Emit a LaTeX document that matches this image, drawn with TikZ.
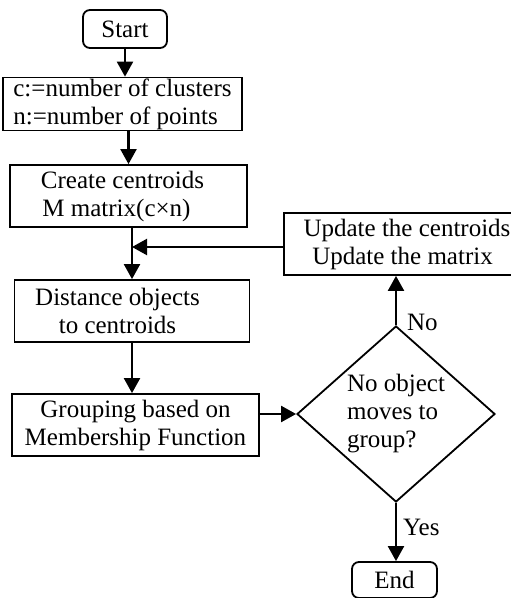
\documentclass[tikz,border=0pt]{standalone}
\usepackage{fontspec}
\setmainfont{Liberation Serif}
\usetikzlibrary{arrows.meta,shapes.geometric,calc}

\tikzset{
  proc/.style={draw=black,line width=1.8pt,minimum height=62pt,inner sep=1pt,align=center,font=\fontsize{25}{28}\selectfont},
  term/.style={proc,rounded corners=7pt,minimum height=38pt},
  decision/.style={draw=black,line width=1.8pt,diamond,aspect=1.125,inner sep=0pt,minimum width=198pt,minimum height=176pt,align=left,font=\fontsize{25}{28}\selectfont},
  flow/.style={line width=2.2pt,-{Triangle[length=15pt,width=16pt]}},
  answer/.style={anchor=west,inner sep=0pt,font=\fontsize{25}{28}\selectfont}
}

\begin{document}
\begin{tikzpicture}[x=1pt,y=-1pt]
\useasboundingbox (0,0) rectangle (511,598);
% boxes
\node[term,minimum width=84pt] (start) at (125,29) {Start};
\node[proc,minimum width=239pt,minimum height=52pt,align=left] (param) at (122.5,104) {c:=number of clusters\\n:=number of points};
\node[proc,minimum width=237pt] (create) at (128.5,196) {Create centroids\hspace*{12pt}\\M matrix(c×n)\hspace*{24pt}};
\node[proc,minimum width=235pt] (dist) at (132,311) {Distance objects\hspace*{29pt}\\to centroids\hspace*{29pt}};
\node[proc,minimum width=247pt] (group) at (135.5,425) {Grouping based on\\Membership Function};
\node[decision] (test) at (396,414) {No object\\moves to\\group?};
\node[proc,minimum width=246pt] (update) at (407,244) {Update the centroids\\Update the matrix\hspace*{9pt}};
\node[term,minimum width=85pt,minimum height=36pt] (end) at (394.5,580) {End};
\coordinate (merge) at (132,247);
% arrows
\draw[flow] (start.south) -- (start.south|-param.north);
\draw[flow] (create.north|-param.south) -- (create.north);
\draw[flow] (dist.north|-create.south) -- (dist.north);
\draw[flow] (dist.south) -- (dist.south|-group.north);
\draw[flow] (group.east|-test.west) -- (test.west);
\draw[flow] (test.north) -- node[answer,pos=0.05,xshift=10pt] (nolbl) {No} (test.north|-update.south);
\draw[flow] (test.south) -- node[answer,pos=0.42,xshift=6pt] (yeslbl) {Yes} (test.south|-end.north);
\draw[flow] (update.west|-merge) -- (merge);
\end{tikzpicture}
\end{document}
